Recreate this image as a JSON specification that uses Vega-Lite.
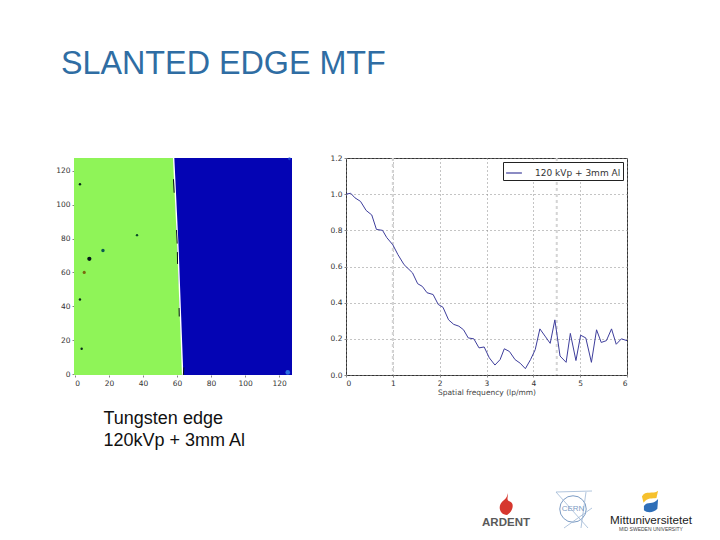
{
"$schema":"https://vega.github.io/schema/vega-lite/v6.json",
"background":"white",
"padding":{"left":55,"top":48,"right":0,"bottom":0},
"title":{"text":"SLANTED EDGE MTF","font":"Liberation Sans","fontSize":32.3,"fontWeight":"normal","color":"#2F6DA3","anchor":"start","frame":"group","offset":73,"dx":-13},
"config":{"view":{"stroke":null},"axis":{"labelFont":"DejaVu Sans","labelFontSize":7.5,"labelColor":"#333","titleFont":"DejaVu Sans","titleFontWeight":"normal"}},
"hconcat":[
{"width":218,"height":217,
 "encoding":{
  "y":{"type":"quantitative","scale":{"domain":[-0.5,127.5],"nice":false,"zero":false},
     "axis":{"values":[0,20,40,60,80,100,120],"labelOverlap":false,"domain":false,"grid":false,"tickSize":2,"labelPadding":2,"title":null}},
  "x":{"type":"quantitative","scale":{"domain":[-0.5,127.5],"nice":false,"zero":false},
     "axis":{"values":[0,20,40,60,80,100,120],"labelOverlap":false,"domain":false,"grid":false,"tickSize":2,"labelPadding":2,"orient":"bottom",
       "title":["Tungsten edge","120kVp + 3mm Al"],"titleFont":"Liberation Sans","titleFontSize":18,"titleColor":"#111","titleAlign":"left","titleAnchor":"start","titleLineHeight":22,"titleX":29,"titleY":48,"titleBaseline":"alphabetic"}}},
 "layer":[
  {"data":{"values":[{"row":-0.5,"edge":63.3,"lo":-0.5},{"row":127.5,"edge":58,"lo":-0.5}]},
   "mark":{"type":"area","orient":"horizontal","color":"#8FF458","clip":true},
   "encoding":{"y":{"field":"row"},"x":{"field":"edge"},"x2":{"field":"lo"}}},
  {"data":{"values":[{"row":-0.5,"edge":63.3,"hi":127.5},{"row":127.5,"edge":58,"hi":127.5}]},
   "mark":{"type":"area","orient":"horizontal","color":"#0404B4"},
   "encoding":{"y":{"field":"row"},"x":{"field":"edge"},"x2":{"field":"hi"}}},
 {"data":{"values":[{"s":"a","px":58,"py":127.5},{"s":"a","px":60.5,"py":75},{"s":"a","px":63.3,"py":-0.5}]},
  "mark":{"type":"line","color":"white","strokeWidth":1.4},
  "encoding":{"x":{"field":"px"},"y":{"field":"py"},"detail":{"field":"s"}}},
 {"data":{"values":[{"s":"a","px":57.9,"py":115},{"s":"a","px":58.3,"py":107},{"s":"b","px":59.7,"py":85},{"s":"b","px":60.1,"py":77},{"s":"c","px":60.2,"py":72},{"s":"c","px":60.3,"py":65},{"s":"d","px":61.2,"py":39},{"s":"d","px":61.3,"py":34},{"s":"e","px":64,"py":4},{"s":"e","px":63.7,"py":-0.5}]},
  "mark":{"type":"line","color":"#061018","strokeWidth":1},
  "encoding":{"x":{"field":"px"},"y":{"field":"py"},"detail":{"field":"s"}}},
 {"data":{"values":[{"px":3,"py":112,"a":6,"c":"#062a18"},{"px":4,"py":15,"a":6,"c":"#062a18"},{"px":3,"py":44,"a":6,"c":"#062a18"},{"px":5.5,"py":60,"a":10,"c":"#7a6a10"},{"px":8.5,"py":68,"a":18,"c":"#041818"},{"px":16.5,"py":73,"a":12,"c":"#0a5a50"},{"px":36.5,"py":82,"a":6,"c":"#0a4a28"},{"px":125,"py":1,"a":22,"c":"#2a70e0"},{"px":126,"py":127,"a":8,"c":"#1a40d0"}]},
  "mark":{"type":"point","filled":true,"opacity":1},
  "encoding":{"x":{"field":"px"},"y":{"field":"py"},"size":{"field":"a","type":"quantitative","scale":null,"legend":null},"color":{"field":"c","type":"nominal","scale":null,"legend":null}}}
 ]},
{"spacing":84,"vconcat":[
 {"width":281,"height":217,
  "view":{"stroke":"#333"},
  "layer":[
  {"data":{"values":[{"f":1},{"f":4.5}]},
   "mark":{"type":"rule","strokeWidth":2,"strokeDash":[3,3],"color":"#d4d4d4"},
   "encoding":{"x":{"field":"f","type":"quantitative"}}},
  {"data":{"values":[
  {"f":0,"m":1.0,"s":"120 kVp + 3mm Al"},{"f":0.1,"m":1.005,"s":"120 kVp + 3mm Al"},{"f":0.19,"m":0.98,"s":"120 kVp + 3mm Al"},{"f":0.31,"m":0.96,"s":"120 kVp + 3mm Al"},{"f":0.43,"m":0.91,"s":"120 kVp + 3mm Al"},{"f":0.55,"m":0.885,"s":"120 kVp + 3mm Al"},{"f":0.65,"m":0.805,"s":"120 kVp + 3mm Al"},{"f":0.78,"m":0.8,"s":"120 kVp + 3mm Al"},{"f":0.87,"m":0.76,"s":"120 kVp + 3mm Al"},{"f":1.0,"m":0.72,"s":"120 kVp + 3mm Al"},{"f":1.11,"m":0.665,"s":"120 kVp + 3mm Al"},{"f":1.24,"m":0.61,"s":"120 kVp + 3mm Al"},{"f":1.42,"m":0.565,"s":"120 kVp + 3mm Al"},{"f":1.53,"m":0.505,"s":"120 kVp + 3mm Al"},{"f":1.63,"m":0.49,"s":"120 kVp + 3mm Al"},{"f":1.73,"m":0.455,"s":"120 kVp + 3mm Al"},{"f":1.86,"m":0.445,"s":"120 kVp + 3mm Al"},{"f":1.97,"m":0.39,"s":"120 kVp + 3mm Al"},{"f":2.07,"m":0.375,"s":"120 kVp + 3mm Al"},{"f":2.19,"m":0.305,"s":"120 kVp + 3mm Al"},{"f":2.3,"m":0.28,"s":"120 kVp + 3mm Al"},{"f":2.41,"m":0.27,"s":"120 kVp + 3mm Al"},{"f":2.51,"m":0.25,"s":"120 kVp + 3mm Al"},{"f":2.61,"m":0.205,"s":"120 kVp + 3mm Al"},{"f":2.73,"m":0.2,"s":"120 kVp + 3mm Al"},{"f":2.84,"m":0.15,"s":"120 kVp + 3mm Al"},{"f":2.95,"m":0.155,"s":"120 kVp + 3mm Al"},{"f":3.06,"m":0.095,"s":"120 kVp + 3mm Al"},{"f":3.18,"m":0.055,"s":"120 kVp + 3mm Al"},{"f":3.29,"m":0.085,"s":"120 kVp + 3mm Al"},{"f":3.38,"m":0.145,"s":"120 kVp + 3mm Al"},{"f":3.49,"m":0.13,"s":"120 kVp + 3mm Al"},{"f":3.61,"m":0.085,"s":"120 kVp + 3mm Al"},{"f":3.72,"m":0.065,"s":"120 kVp + 3mm Al"},{"f":3.83,"m":0.035,"s":"120 kVp + 3mm Al"},{"f":3.94,"m":0.085,"s":"120 kVp + 3mm Al"},{"f":4.04,"m":0.14,"s":"120 kVp + 3mm Al"},{"f":4.14,"m":0.255,"s":"120 kVp + 3mm Al"},{"f":4.25,"m":0.215,"s":"120 kVp + 3mm Al"},{"f":4.36,"m":0.175,"s":"120 kVp + 3mm Al"},{"f":4.46,"m":0.305,"s":"120 kVp + 3mm Al"},{"f":4.57,"m":0.105,"s":"120 kVp + 3mm Al"},{"f":4.7,"m":0.07,"s":"120 kVp + 3mm Al"},{"f":4.79,"m":0.23,"s":"120 kVp + 3mm Al"},{"f":4.91,"m":0.08,"s":"120 kVp + 3mm Al"},{"f":5.01,"m":0.22,"s":"120 kVp + 3mm Al"},{"f":5.12,"m":0.205,"s":"120 kVp + 3mm Al"},{"f":5.24,"m":0.07,"s":"120 kVp + 3mm Al"},{"f":5.35,"m":0.25,"s":"120 kVp + 3mm Al"},{"f":5.45,"m":0.18,"s":"120 kVp + 3mm Al"},{"f":5.56,"m":0.19,"s":"120 kVp + 3mm Al"},{"f":5.67,"m":0.255,"s":"120 kVp + 3mm Al"},{"f":5.77,"m":0.17,"s":"120 kVp + 3mm Al"},{"f":5.88,"m":0.2,"s":"120 kVp + 3mm Al"},{"f":6.0,"m":0.19,"s":"120 kVp + 3mm Al"}]},
  "mark":{"type":"line","strokeWidth":1,"clip":true},
  "encoding":{
   "x":{"field":"f","type":"quantitative","scale":{"domain":[0,6],"nice":false},
     "axis":{"values":[0,1,2,3,4,5,6],"grid":true,"gridDash":[1,3],"gridColor":"#888","domain":false,"tickSize":2,"labelPadding":2,"title":"Spatial frequency (lp/mm)","titleFontSize":7.5,"titleColor":"#444","titlePadding":2}},
   "y":{"field":"m","type":"quantitative","scale":{"domain":[0,1.2],"nice":false},
     "axis":{"values":[0,0.2,0.4,0.6,0.8,1.0,1.2],"format":".1f","grid":true,"gridDash":[1,3],"gridColor":"#888","domain":false,"tickSize":2,"labelPadding":2,"title":null}},
   "color":{"field":"s","type":"nominal","scale":{"range":["#3E3E9C"]},
     "legend":{"title":null,"orient":"none","legendX":157,"legendY":4,"strokeColor":"#222","fillColor":"white","padding":2,"labelFont":"DejaVu Sans","labelFontSize":9,"labelColor":"#333","labelOffset":12,"symbolType":"stroke","symbolSize":250,"symbolStrokeWidth":1.2}}}}
  ]},
 {"width":374,"height":60,
  "layer":[
  {"data":{"values":[{"lx":506,"ly":503}]},
   "mark":{"type":"point","filled":true,"color":"#D6372E","opacity":1,"size":480,"shape":"M0.1,-1 C0.3,-0.6 -0.1,-0.4 0.4,-0.2 C0.8,0 0.6,0.7 0.1,1 C-0.5,1 -0.7,0.4 -0.5,0 C-0.3,-0.4 0.2,-0.5 0.1,-1 Z"},
   "encoding":{"x":{"field":"lx","type":"quantitative","scale":{"domain":[346,720],"nice":false,"zero":false},"axis":null},
    "y":{"field":"ly","type":"quantitative","scale":{"domain":[540,480],"nice":false,"zero":false},"axis":null}}},
  {"data":{"values":[{"lx":573,"ly":508}]},
   "mark":{"type":"point","filled":false,"color":"#7C9CC4","strokeWidth":1,"size":700,"opacity":1},
   "encoding":{"x":{"field":"lx","type":"quantitative"},"y":{"field":"ly","type":"quantitative"}}},
  {"data":{"values":[{"s":"a","lx":556,"ly":491},{"s":"a","lx":592,"ly":490},{"s":"b","lx":586,"ly":491},{"s":"b","lx":581,"ly":527},{"s":"c","lx":556,"ly":491},{"s":"c","lx":588,"ly":527},{"s":"d","lx":592,"ly":507},{"s":"d","lx":564,"ly":527}]},
   "mark":{"type":"line","color":"#9DB6D4","strokeWidth":0.8},
   "encoding":{"x":{"field":"lx","type":"quantitative"},"y":{"field":"ly","type":"quantitative"},"detail":{"field":"s"}}},
  {"data":{"values":[{"lx":650,"ly":497}]},
   "mark":{"type":"point","filled":true,"color":"#F6C12E","opacity":1,"size":260,"shape":"M-1,-0.2 C-0.6,-1 0.4,-0.4 1,-0.9 L0.8,0 C0.3,0.1 -0.3,-0.1 -0.8,0.6 Z"},
   "encoding":{"x":{"field":"lx","type":"quantitative"},"y":{"field":"ly","type":"quantitative"}}},
  {"data":{"values":[{"lx":651,"ly":505}]},
   "mark":{"type":"point","filled":true,"color":"#2F6FB8","opacity":1,"size":200,"shape":"M-1,0 C-0.5,-0.8 0.2,0 1,-1 L0.9,0.4 C0.4,1 -0.6,1 -1,0.6 Z"},
   "encoding":{"x":{"field":"lx","type":"quantitative"},"y":{"field":"ly","type":"quantitative"}}},
  {"data":{"values":[{"t":"ARDENT","lx":506,"ly":522}]},
   "mark":{"type":"text","font":"Liberation Sans","fontWeight":"bold","fontSize":11.5,"color":"#5A5A5A","align":"center","baseline":"middle"},
   "encoding":{"x":{"field":"lx","type":"quantitative"},"y":{"field":"ly","type":"quantitative"},"text":{"field":"t"}}},
  {"data":{"values":[{"t":"CERN","lx":573,"ly":508,"sz":8,"c":"#7C9CC4"},{"t":"Mittuniversitetet","lx":651,"ly":519,"sz":11.7,"c":"#222222"},{"t":"MID SWEDEN UNIVERSITY","lx":651,"ly":528,"sz":5,"c":"#444444"}]},
   "mark":{"type":"text","font":"Liberation Sans","align":"center","baseline":"middle"},
   "encoding":{"x":{"field":"lx","type":"quantitative"},"y":{"field":"ly","type":"quantitative"},"text":{"field":"t"},"size":{"field":"sz","type":"quantitative","scale":null,"legend":null},"color":{"field":"c","type":"nominal","scale":null,"legend":null}}}
  ]}
 ]}
],
"spacing":37,
"resolve":{"legend":{"color":"independent"}}
}
